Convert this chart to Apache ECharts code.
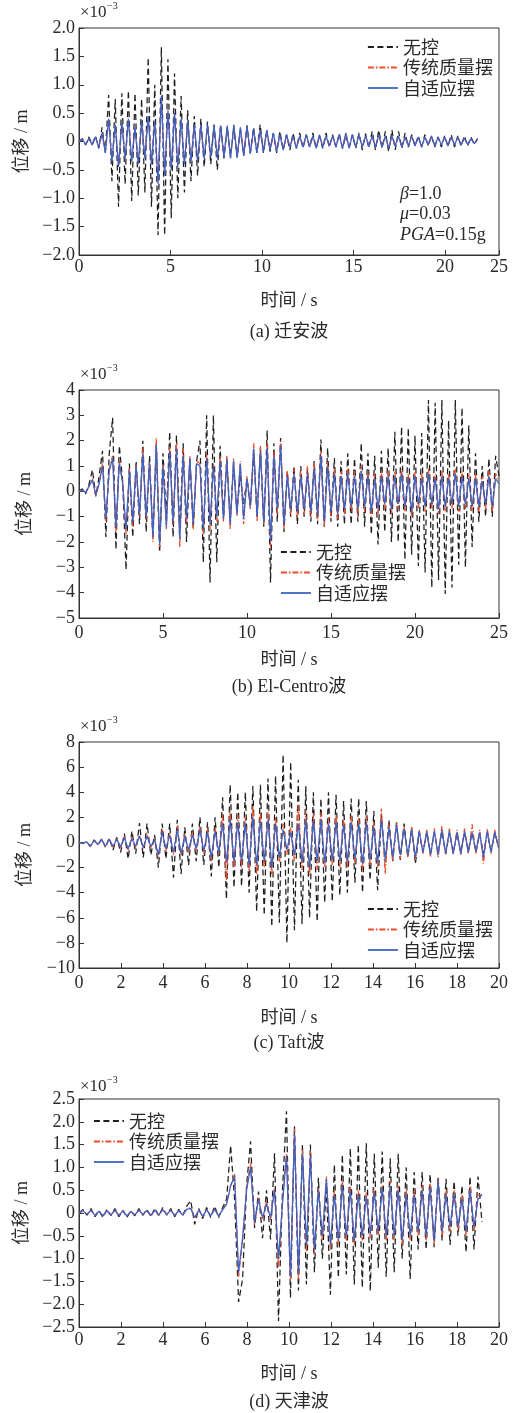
<!DOCTYPE html>
<html><head><meta charset="utf-8">
<script src="https://cdn.jsdelivr.net/npm/echarts@6/dist/echarts.min.js"></script>
<style>html,body{margin:0;padding:0;background:#fff}#c{width:514px;height:1413px}</style>
</head><body><div id="c"></div>
<script>
// ---------- data (displacement, x10^-3 m) ----------
const seriesNames = ['无控', '传统质量摆', '自适应摆'];
const captions = ['(a) 迁安波', '(b) El-Centro波', '(c) Taft波', '(d) 天津波'];
const xTitle = '时间 / s';
const yTitle = '位移 / m';
const expLabel = '×10';
const expSup = '−3';

// (a) Qian'an wave, sample step 0.18 s
const aStep = 0.18;
const aNoControl = [
0, 0.05, -0.06, 0.08, -0.05, 0.1, -0.12, 0.25, -0.2,
0.82, -0.7, 0.75, -1.15, 0.85, -0.75, 0.9, -1.05, 0.85, -0.95,
0.75, -0.9, 1.48, -1.15, 1.0, -1.65, 1.66, -1.65, 1.45, -1.35,
1.2, -1.0, 0.8, -0.9, 0.55, -0.7, 0.45, -0.6, 0.4, -0.45,
0.35, -0.4, 0.3, -0.5, 0.3, -0.3,
0.25, -0.25, 0.22, -0.28, 0.2, -0.25, 0.28, -0.2, 0.25, -0.2, 0.3,
-0.2, 0.2, -0.18, 0.15, -0.2, 0.18, -0.15, 0.12, -0.15, 0.15, -0.12,
0.15, -0.12, 0.12, -0.1, 0.15, -0.12, 0.1, -0.12, 0.15, -0.1, 0.12, -0.1, 0.14, -0.12, 0.1, -0.1, 0.12, -0.12, 0.15, -0.15, 0.14, -0.12,
0.18, -0.15, 0.2, -0.12, 0.18, -0.18, 0.2, -0.15, 0.18, -0.12, 0.15,
-0.1, 0.12, -0.08, 0.1, -0.1, 0.12, -0.08, 0.1, -0.1, 0.08, -0.1, 0.1, -0.08, 0.12, -0.1, 0.1, -0.08, 0.1, -0.08, 0.08, -0.05, 0.05
];
const aTMD = [
0, 0.04, -0.05, 0.05, -0.06, 0.07, -0.1, 0.14, -0.18,
0.38, -0.33, 0.28, -0.42, 0.33, -0.28, 0.37, -0.33, 0.24, -0.37, 0.33, -0.28,
0.42, -0.37, 0.33, -0.7, 0.75, -0.56, 0.52, -0.47, 0.47, -0.42, 0.37, -0.37,
0.33, -0.33, 0.28, -0.33, 0.28, -0.28, 0.28, -0.26, 0.26, -0.28, 0.26, -0.26,
0.26, -0.28, 0.28, -0.26, 0.23, -0.23, 0.26, -0.2, 0.2, -0.18, 0.18,
-0.16, 0.18, -0.14, 0.14, -0.16, 0.11, -0.14, 0.11, -0.09, 0.09, -0.11,
0.09, -0.09, 0.11, -0.09, 0.09, -0.11, 0.11, -0.09, 0.09, -0.07, 0.09, -0.09, 0.11, -0.11, 0.14, -0.11, 0.11, -0.09, 0.11, -0.09, 0.09, -0.07,
0.09, -0.09, 0.11, -0.09, 0.09, -0.11, 0.09, -0.07, 0.09, -0.09, 0.07,
-0.07, 0.09, -0.07, 0.07, -0.09, 0.07, -0.05, 0.09, -0.07, 0.07, -0.05, 0.07, -0.07, 0.07, -0.05, 0.07, -0.05, 0.05, -0.04, 0.04, -0.03, 0.04
];
const aAdaptive = [
0, 0.04, -0.05, 0.05, -0.06, 0.08, -0.1, 0.15, -0.2,
0.4, -0.35, 0.3, -0.45, 0.35, -0.3, 0.4, -0.35, 0.25, -0.4,
0.35, -0.3, 0.45, -0.4, 0.35, -0.75, 0.8, -0.6, 0.55, -0.5,
0.5, -0.45, 0.4, -0.4, 0.35, -0.35, 0.3, -0.35, 0.3, -0.3,
0.3, -0.28, 0.28, -0.3, 0.28, -0.28,
0.28, -0.3, 0.3, -0.28, 0.25, -0.25, 0.28, -0.22, 0.22, -0.2, 0.2,
-0.18, 0.2, -0.15, 0.15, -0.18, 0.12, -0.15, 0.12, -0.1, 0.1, -0.12,
0.1, -0.1, 0.12, -0.1, 0.1, -0.12, 0.12, -0.1, 0.1, -0.08, 0.1, -0.1, 0.12, -0.12, 0.15, -0.12, 0.12, -0.1, 0.12, -0.1, 0.1, -0.08,
0.1, -0.1, 0.12, -0.1, 0.1, -0.12, 0.1, -0.08, 0.1, -0.1, 0.08,
-0.08, 0.1, -0.08, 0.08, -0.1, 0.08, -0.06, 0.1, -0.08, 0.08, -0.06, 0.08, -0.08, 0.08, -0.06, 0.08, -0.06, 0.06, -0.05, 0.05, -0.04, 0.05
];

// (b) El-Centro wave, sample step 0.2 s
const bStep = 0.2;
const bNoControl = [
0, 0.1, -0.1, 0.3, 0.85, -0.2, 0.6, 1.6, -1.8, 1.5,
2.9, -2.3, 1.8, 0.4, -3.1, 1.1, -1.8, 1.2, -1.3, 2.0,
-1.6, 1.4, -1.9, 1.8, -2.4, 1.5, -1.0, 2.35, -1.8, 2.2,
-1.6, 1.9, -2.0, 1.3, -1.5, 1.2, 2.0, -2.8, 3.0, -3.6,
3.0, -2.8, 1.8, -1.0, 1.3, -1.2, 1.0, -0.8, 0.6, -0.5,
0.5, -0.6, 1.5, -1.0, 1.7, -1.4, 2.4, -3.6, 1.9, -1.2,
2.1, -1.6, 0.8, -1.0, 1.0, -1.3, 1.0, -1.0, 0.9, -1.2,
1.2, -1.3, 2.05, -1.4, 1.7, -1.2, 1.3, -1.4, 1.2, -1.3,
1.5, -1.3, 1.3, -1.2, 1.9, -1.4, 1.5, -1.7, 1.4, -2.1,
1.6, -1.6, 1.7, -2.0, 2.35, -2.0, 2.55, -2.7, 2.5, -2.5,
2.2, -2.95, 2.3, -3.2, 3.6, -3.8, 3.5, -3.5, 3.6, -4.05,
2.8, -3.8, 3.6, -2.9, 3.3, -3.0, 2.6, -2.2, 1.5, -1.2,
1.0, -1.0, 1.3, -1.0, 1.4, 0.6
];
const bTMD = [
0, 0.05, -0.05, 0.2, 0.5, -0.2, 0.35, 1.1, -1.2, 0.9,
1.4, -1.6, 1.2, 0.35, -1.7, 0.9, -1.4, 1.1, -1.0, 1.7,
-1.1, 1.2, -2.0, 2.1, -2.2, 1.1, -1.5, 1.8, -1.3, 1.9,
-2.2, 1.7, -1.3, 1.4, -1.5, 1.2, 1.1, -1.7, 1.5, -1.5,
1.1, -1.2, 1.4, -1.2, 1.4, -1.5, 1.3, -1.0, 1.2, -1.3,
0.6, -0.7, 1.9, -1.2, 1.8, -1.3, 1.9, -2.2, 1.6, -0.9,
2.0, -1.5, 0.8, -0.9, 0.9, -1.0, 0.8, -0.9, 1.0, -1.0,
1.1, -1.1, 1.6, -1.4, 1.2, -1.0, 0.9, -1.1, 0.8, -0.9,
0.9, -0.8, 0.8, -0.9, 1.0, -0.8, 0.8, -1.0, 0.7, -0.9,
0.8, -0.7, 0.8, -0.9, 0.8, -0.7, 0.9, -0.8, 0.7, -1.0,
0.8, -0.7, 0.7, -0.8, 0.9, -0.7, 0.7, -0.9, 0.8, -0.8,
0.7, -0.7, 0.9, -0.8, 0.8, -0.7, 0.7, -0.8, 0.7, -0.8,
0.6, -0.7, 0.8, -0.8, 0.7, 0.4
];
const bAdaptive = [
0, 0.05, -0.05, 0.2, 0.45, -0.15, 0.3, 1.0, -1.05, 0.8,
1.3, -1.4, 1.1, 0.3, -1.5, 0.8, -1.2, 1.0, -0.9, 1.5,
-1.0, 1.1, -1.8, 1.85, -2.1, 1.0, -1.4, 1.6, -1.2, 1.65,
-1.9, 1.4, -1.1, 1.3, -1.3, 1.1, 1.0, -1.5, 1.3, -1.3,
1.0, -1.0, 1.2, -1.1, 1.25, -1.3, 1.2, -0.9, 1.1, -1.1,
0.5, -0.6, 1.7, -1.0, 1.6, -1.2, 1.7, -2.0, 1.4, -0.7,
1.8, -1.3, 0.6, -0.7, 0.7, -0.8, 0.6, -0.7, 0.7, -0.8,
0.9, -0.9, 1.4, -1.2, 1.0, -0.8, 0.7, -0.9, 0.6, -0.7,
0.7, -0.6, 0.6, -0.7, 0.8, -0.6, 0.6, -0.8, 0.5, -0.7,
0.6, -0.5, 0.6, -0.7, 0.6, -0.5, 0.7, -0.6, 0.5, -0.8,
0.6, -0.5, 0.5, -0.6, 0.7, -0.5, 0.5, -0.7, 0.6, -0.6,
0.5, -0.5, 0.7, -0.6, 0.6, -0.5, 0.5, -0.6, 0.5, -0.6,
0.4, -0.5, 0.6, -0.6, 0.5, 0.3
];

// (c) Taft wave, sample step 0.18 s
const cStep = 0.18;
const cNoControl = [
0, -0.05, 0.05, -0.3, 0.2, -0.2, 0.3, -0.4, 0.35, -0.6,
0.4, -0.8, 0.7, -1.3, 0.9, -0.9, 1.55, -1.2, 1.5, -1.0,
0.6, -2.0, 1.5, -1.3, 1.5, -2.8, 1.8, -2.5, 1.2, -1.8,
1.5, -1.5, 2.0, -1.8, 1.6, -2.7, 2.0, -2.0, 3.6, -4.5,
4.6, -3.6, 4.0, -3.5, 4.0, -4.0, 4.5, -5.5, 4.6, -5.8,
5.1, -6.7, 5.3, -6.4, 7.0, -8.0, 6.4, -7.0, 5.0, -6.5,
4.5, -6.0, 4.0, -6.3, 3.5, -4.8, 4.0, -4.7, 3.8, -4.2,
3.3, -4.0, 3.5, -3.2, 3.5, -4.0, 3.3, -3.0, 2.5, -3.8,
2.2, -1.6, 1.8, -1.5, 1.6, -1.4, 1.5, -1.2, 1.2, -1.7,
0.8, -0.8, 0.9, -0.9, 0.8, -0.8, 0.9, -0.9, 0.8, -0.8,
0.7, -0.8, 0.8, -0.7, 0.8, -0.8, 0.7, -0.9, 0.8, -0.7,
0.8, -0.4
];
const cTMD = [
0, -0.1, 0.05, -0.35, 0.2, -0.2, 0.25, -0.35, 0.3, -0.4,
0.3, -0.4, 0.5, -0.6, 0.4, -0.4, 0.6, -0.5, 0.6, -0.4,
0.3, -1.2, 1.0, -0.7, 0.8, -1.0, 1.3, -1.1, 0.7, -0.9,
0.9, -0.7, 1.3, -0.9, 1.1, -1.5, 1.2, -1.0, 2.2, -3.0,
2.5, -2.0, 2.2, -2.0, 2.0, -2.3, 2.9, -2.5, 2.4, -2.0,
2.4, -2.6, 2.0, -1.6, 1.5, -1.0, 1.2, -1.5, 3.0, -2.2,
2.5, -2.6, 2.3, -2.2, 2.4, -2.0, 2.0, -1.8, 2.2, -2.0,
1.9, -2.0, 2.1, -1.8, 2.0, -2.2, 2.1, -1.8, 1.6, -2.0,
2.7, -2.5, 1.5, -1.5, 1.6, -1.3, 1.3, -1.2, 1.2, -1.4,
1.0, -0.9, 1.0, -1.2, 1.1, -1.2, 1.3, -1.0, 1.1, -1.0,
1.0, -1.0, 1.1, -0.9, 1.45, -0.9, 1.0, -1.7, 1.1, -0.9,
1.0, -0.5
];
const cAdaptive = [
0, -0.05, 0.05, -0.3, 0.15, -0.15, 0.2, -0.3, 0.25, -0.3,
0.25, -0.35, 0.4, -0.5, 0.3, -0.3, 0.5, -0.4, 0.5, -0.3,
0.2, -1.0, 0.8, -0.5, 0.6, -0.8, 1.0, -0.9, 0.5, -0.6,
0.6, -0.5, 1.0, -0.7, 0.8, -1.2, 0.9, -0.8, 1.5, -1.6,
1.8, -1.5, 1.6, -1.5, 1.5, -1.8, 2.0, -1.8, 1.7, -1.5,
1.8, -2.0, 1.5, -1.2, 1.0, -0.6, 0.8, -1.0, 1.5, -1.6,
1.8, -2.0, 1.7, -1.5, 1.8, -1.6, 1.5, -1.4, 1.6, -1.5,
1.4, -1.5, 1.6, -1.3, 1.5, -1.7, 1.6, -1.4, 1.2, -1.6,
1.8, -1.3, 1.2, -1.2, 1.4, -1.0, 1.1, -1.0, 1.0, -1.2,
0.9, -0.8, 0.8, -1.0, 0.9, -1.0, 1.0, -0.9, 0.9, -0.9,
0.8, -0.9, 0.9, -0.8, 0.8, -0.7, 0.8, -1.2, 0.9, -0.8,
0.8, -0.4
];

// (d) Tianjin wave, sample step 0.19 s
const dStep = 0.19;
const dNoControl = [
0, 0.08, -0.05, 0.1, -0.08, 0.05, -0.1, 0.08, -0.06, 0.1,
-0.08, 0.06, -0.1, 0.05, -0.06, 0.1, -0.05, 0.08, -0.08, 0.1,
-0.06, 0.12, -0.05, 0.1, -0.08, 0.08, -0.06, 0.15, 0.27, -0.25,
0.1, -0.12, 0.12, -0.1, 0.15, -0.1, 0.12,
0.3, 1.48, 0.3, -1.95, -1.45, 0.6, 1.57, -0.33, 0.47, -0.55,
0.5, -0.58, 1.31, -2.37, 0.5, 2.23, -1.86, 1.9, -1.7, 1.5,
-1.57, 1.5, -1.3, 0.77, -1.0, 0.6, -1.79, 1.06, -1.42, 1.28,
-1.35, 1.42, -1.57, 1.5, -1.64, 1.53, -1.71,
1.3, -1.2, 1.35, -1.4, 1.2, -1.3, 1.3, -1.0, 1.0, -1.45,
0.9, -0.8, 0.9, -0.8, 0.85, -0.75, 0.8, -0.6, 0.75, -0.7,
0.7, -0.5, 0.6, -0.86, 0.8, -0.8, 0.8, -0.2
];
const dTMD = [
0, 0.06, -0.04, 0.07, -0.06, 0.05, -0.07, 0.06, -0.05, 0.07,
-0.06, 0.05, -0.07, 0.04, -0.05, 0.07, -0.04, 0.06, -0.06, 0.07,
-0.05, 0.08, -0.04, 0.07, -0.06, 0.06, -0.05, 0.09, 0.12, -0.12,
0.07, -0.08, 0.08, -0.07, 0.09, -0.07, 0.08,
0.2, 0.6, 0.85, -1.4, -0.6, 0.55, 1.1, -0.25, 0.35, -0.15,
0.25, -0.15, 0.55, -1.2, 0.25, 1.3, -1.5, 1.85, -1.45, 1.4,
-0.85, 1.35, -0.9, 0.55, -0.6, 0.8, -0.8, 0.5, -0.7, 0.7,
-0.6, 0.6, -0.7, 0.5, -0.6, 0.45, -0.55,
0.55, -0.5, 0.6, -0.6, 0.7, -0.6, 0.6, -0.7, 0.5, -0.6,
0.5, -0.5, 0.6, -0.6, 0.65, -0.7, 0.75, -0.5, 0.5, -0.4,
0.5, -0.4, 0.4, -0.5, 0.6, -0.4, 0.4, 0.4
];
const dAdaptive = [
0, 0.05, -0.03, 0.06, -0.05, 0.04, -0.06, 0.05, -0.04, 0.06,
-0.05, 0.04, -0.06, 0.03, -0.04, 0.06, -0.03, 0.05, -0.05, 0.06,
-0.04, 0.07, -0.03, 0.06, -0.05, 0.05, -0.04, 0.08, 0.1, -0.1,
0.06, -0.07, 0.07, -0.06, 0.08, -0.06, 0.07,
0.2, 0.6, 0.8, -1.3, -0.55, 0.5, 1.0, -0.2, 0.3, -0.1,
0.2, -0.1, 0.5, -1.0, 0.2, 1.25, -1.4, 1.73, -1.3, 1.3,
-0.7, 1.25, -0.8, 0.5, -0.5, 0.75, -0.7, 0.4, -0.6, 0.6,
-0.5, 0.5, -0.6, 0.4, -0.5, 0.35, -0.45,
0.45, -0.4, 0.55, -0.5, 0.6, -0.5, 0.5, -0.6, 0.4, -0.5,
0.4, -0.4, 0.5, -0.5, 0.55, -0.6, 0.7, -0.4, 0.4, -0.3,
0.4, -0.3, 0.3, -0.4, 0.5, -0.3, 0.3, 0.4
];

// axis ranges
const aX = [0, 22.95, 5], aY = [-2, 2, 0.5];
const bX = [0, 25, 5],    bY = [-5, 4, 1];
const cX = [0, 20, 2],    cY = [-10, 8, 2];
const dX = [0, 20, 2],    dY = [-2.5, 2.5, 0.5];
const aLastTickLabel = '25';

// ---------- chart ----------
const SERIF = "'Liberation Serif','Times New Roman',serif";
const MIXED = "'Liberation Serif','Noto Sans CJK SC',serif";
const CJK = "'Noto Sans CJK SC','Liberation Serif',sans-serif";
const INK = '#2a2a2a';
const colors = ['#1e1e1e', '#ee4d2b', '#3c63c8'];
const dashes = [[6, 3.5], [6, 2, 1.5, 2], 'solid'];

function pairs(vals, step) { return vals.map((v, i) => [Math.round(i * step * 1000) / 1000, v]); }
const fmtDec = v => v === 0 ? '0' : (v < 0 ? '−' : '') + Math.abs(v).toFixed(1);
const fmtInt = v => (v < 0 ? '−' : '') + Math.abs(v);

const panels = [
  {grid: {left: 79, top: 28, width: 420, height: 227}, x: aX, y: aY, yf: fmtDec, step: aStep,
   data: [aNoControl, aTMD, aAdaptive], legend: {left: 367, top: 38}, nameGap: 37, labelMargin: 3,
   xf: v => v > 21 ? aLastTickLabel : String(v), exp: 4.5, cap: 332},
  {grid: {left: 79, top: 390, width: 420, height: 228}, x: bX, y: bY, yf: fmtInt, step: bStep,
   data: [bNoControl, bTMD, bAdaptive], legend: {left: 280, top: 543}, nameGap: 33, labelMargin: 6,
   xf: v => String(v), exp: 366, cap: 687},
  {grid: {left: 79, top: 742, width: 420, height: 226}, x: cX, y: cY, yf: fmtInt, step: cStep,
   data: [cNoControl, cTMD, cAdaptive], legend: {left: 367, top: 900}, nameGap: 41, labelMargin: 6,
   xf: v => String(v), exp: 718, cap: 1043},
  {grid: {left: 79, top: 1099, width: 420, height: 228}, x: dX, y: dY, yf: fmtDec, step: dStep,
   data: [dNoControl, dTMD, dAdaptive], legend: {left: 93, top: 1112}, nameGap: 38, labelMargin: 4,
   xf: v => String(v), exp: 1078, cap: 1402}
];

const option = {
  animation: false,
  backgroundColor: '#fff',
  grid: [], xAxis: [], yAxis: [], series: [], legend: [], graphic: []
};

panels.forEach((p, k) => {
  option.grid.push(Object.assign({show: true, borderColor: '#333', borderWidth: 1, backgroundColor: 'transparent'}, p.grid));
  option.xAxis.push({
    type: 'value', gridIndex: k, min: p.x[0], max: p.x[1], interval: p.x[2],
    axisLine: {show: true, onZero: false, lineStyle: {color: '#333', width: 1}},
    axisTick: {show: true, inside: true, length: 5, lineStyle: {color: '#333'}},
    axisLabel: {color: INK, fontSize: 18, fontFamily: SERIF, margin: p.labelMargin, formatter: p.xf, showMaxLabel: true},
    splitLine: {show: false},
    name: xTitle, nameLocation: 'middle', nameGap: p.nameGap,
    nameTextStyle: {fontSize: 18, color: INK, fontFamily: MIXED}
  });
  option.yAxis.push({
    type: 'value', gridIndex: k, min: p.y[0], max: p.y[1], interval: p.y[2],
    axisLine: {show: true, onZero: false, lineStyle: {color: '#333', width: 1}},
    axisTick: {show: true, inside: true, length: 5, lineStyle: {color: '#333'}},
    axisLabel: {color: INK, fontSize: 18, fontFamily: SERIF, margin: 4, formatter: p.yf},
    splitLine: {show: false},
    name: yTitle, nameLocation: 'middle', nameGap: 45,
    nameTextStyle: {fontSize: 18, color: INK, fontFamily: MIXED}
  });
  p.data.forEach((vals, s) => {
    option.series.push({
      type: 'line', name: seriesNames[s], xAxisIndex: k, yAxisIndex: k,
      data: pairs(vals, p.step), symbol: 'none', showSymbol: false, smooth: false,
      lineStyle: {color: colors[s], width: 1.25, type: dashes[s]},
      itemStyle: {color: colors[s]}, z: 2 + s
    });
  });
  option.legend.push({
    orient: 'vertical', left: p.legend.left, top: p.legend.top, padding: 0,
    itemWidth: 30, itemHeight: 14, itemGap: 2.5,
    data: seriesNames,
    textStyle: {fontSize: 18, lineHeight: 18, color: INK, fontFamily: CJK},
    itemStyle: {opacity: 0},
    lineStyle: {width: 1.8}, selectedMode: false
  });
  option.graphic.push(
    {type: 'text', left: 80, top: p.exp, style: {text: expLabel, fontSize: 17, fontFamily: SERIF, fill: INK}},
    {type: 'text', left: 107, top: p.exp - 3, style: {text: expSup, fontSize: 10, fontFamily: SERIF, fill: INK}},
    {type: 'text', x: 289, y: p.cap, style: {text: captions[k], fontSize: 18, fontFamily: MIXED, fill: INK, align: 'center', verticalAlign: 'middle'}}
  );
});

// annotation of panel (a)
const annot = [['β', '=1.0'], ['μ', '=0.03'], ['PGA', '=0.15g']];
annot.forEach((a, i) => {
  option.graphic.push({type: 'text', left: 400, top: 185 + i * 20.5,
    style: {text: '{i|' + a[0] + '}' + a[1], fontSize: 18, fontFamily: SERIF, fill: INK,
      rich: {i: {fontStyle: 'italic', fontSize: 18, fontFamily: SERIF, fill: INK}}}});
});

const chart = echarts.init(document.getElementById('c'), null, {renderer: 'canvas'});
chart.setOption(option);
</script></body></html>
